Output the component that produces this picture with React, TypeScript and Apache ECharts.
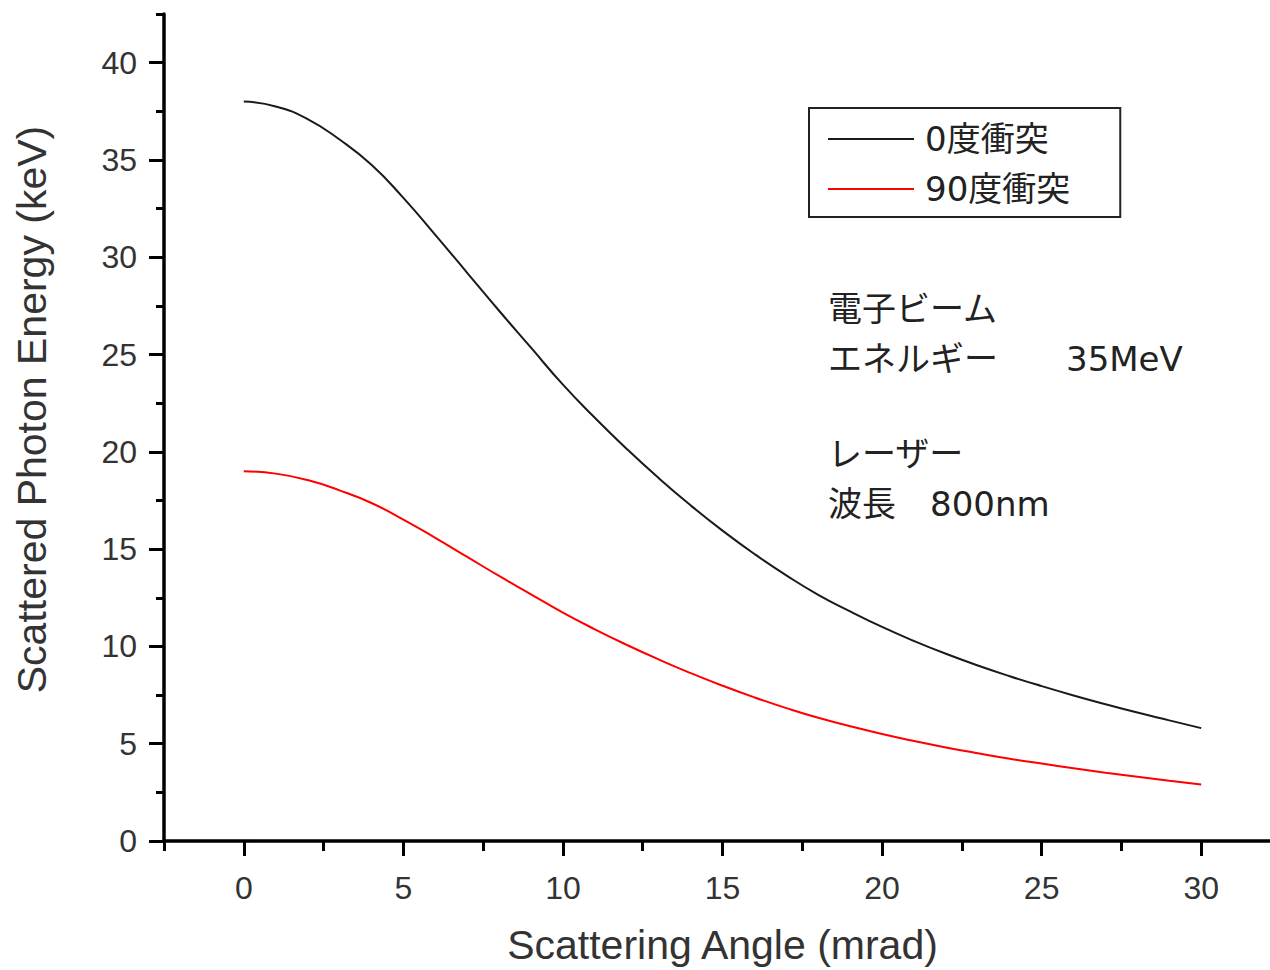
import React, { useEffect, useRef } from "react";
import * as echarts from "echarts";

// Scattering angle (mrad)
const angles = [0, 1, 2, 3, 4, 5, 6, 7, 8, 9, 10, 11, 12, 13, 14, 15, 16, 17, 18, 19, 20, 21, 22, 23, 24, 25, 26, 27, 28, 29, 30];
// Scattered photon energy (keV), head-on (0 deg) collision
const energy0deg = [38.0, 37.75, 37.1, 36.05, 34.75, 33.05, 31.15, 29.2, 27.25, 25.35, 23.45, 21.75, 20.15, 18.65, 17.25, 15.95, 14.75, 13.65, 12.65, 11.8, 11.0, 10.28, 9.62, 9.02, 8.47, 7.96, 7.48, 7.03, 6.6, 6.2, 5.8];
// Scattered photon energy (keV), 90 deg collision
const energy90deg = [19.0, 18.88, 18.55, 18.02, 17.37, 16.52, 15.58, 14.6, 13.62, 12.68, 11.74, 10.88, 10.08, 9.33, 8.63, 7.98, 7.38, 6.83, 6.33, 5.9, 5.5, 5.14, 4.81, 4.51, 4.23, 3.98, 3.74, 3.51, 3.3, 3.1, 2.9];

const seriesNames = ["0度衝突", "90度衝突"];
const seriesColors = ["#1a1a1a", "#ff0000"];
const xAxisTitle = "Scattering Angle (mrad)";
const yAxisTitle = "Scattered Photon Energy (keV)";
const xMajorTicks = [0, 5, 10, 15, 20, 25, 30];
const xMinorTicks = [-2.5, 2.5, 7.5, 12.5, 17.5, 22.5, 27.5, 32.5];
const yMajorTicks = [0, 5, 10, 15, 20, 25, 30, 35, 40];
const yMinorTicks = [2.5, 7.5, 12.5, 17.5, 22.5, 27.5, 32.5, 37.5, 42.5];
const annotationLines = ["電子ビーム", "エネルギー　　35MeV", "レーザー", "波長　800nm"];

const LAT = "'Liberation Sans', Arial, sans-serif";
const JP = "'DejaVu Sans', 'Noto Sans CJK JP', sans-serif";

export default function App() {
  const ref = useRef<HTMLDivElement>(null);

  useEffect(() => {
    if (!ref.current) return;
    const chart = echarts.init(ref.current, undefined, { renderer: "svg" });

    const grid = { left: 164, top: 14, width: 1117, height: 829 };
    const annY = [309, 359, 454, 504];

    const option: any = {
      animation: false,
      backgroundColor: "#ffffff",
      grid,
      legend: {
        orient: "vertical",
        left: 809,
        top: 108,
        padding: [11, 50, 8, 19],
        itemGap: 10,
        itemWidth: 86,
        itemHeight: 2,
        icon: "rect",
        borderColor: "#222",
        borderWidth: 2,
        selectedMode: false,
        data: seriesNames,
        textStyle: {
          fontFamily: JP,
          fontSize: 34,
          lineHeight: 40,
          color: "#222",
          padding: [0, 0, 0, 6],
        },
      },
      xAxis: [
        {
          type: "value",
          min: -2.5,
          max: 32.5,
          position: "bottom",
          name: xAxisTitle,
          nameLocation: "middle",
          nameGap: 83,
          nameTextStyle: { fontFamily: LAT, fontSize: 41, color: "#333" },
          axisLine: { show: true, onZero: false, lineStyle: { color: "#000", width: 3.5 } },
          axisTick: { show: true, inside: false, length: 15, customValues: xMajorTicks, lineStyle: { color: "#000", width: 3 } },
          axisLabel: { show: true, customValues: xMajorTicks, margin: 31, fontFamily: LAT, fontSize: 32, color: "#333" },
          splitLine: { show: false },
        },
        {
          type: "value",
          min: -2.5,
          max: 32.5,
          position: "bottom",
          axisLine: { show: false, onZero: false },
          axisTick: { show: true, inside: false, length: 10, customValues: xMinorTicks, lineStyle: { color: "#000", width: 3 } },
          axisLabel: { show: false },
          splitLine: { show: false },
        },
      ],
      yAxis: [
        {
          type: "value",
          min: 0,
          max: 42.5,
          position: "left",
          name: yAxisTitle,
          nameLocation: "middle",
          nameGap: 112,
          nameTextStyle: { fontFamily: LAT, fontSize: 41, color: "#333", padding: [0, 0, 0, 36] },
          axisLine: { show: true, onZero: false, lineStyle: { color: "#000", width: 3.5 } },
          axisTick: { show: true, inside: false, length: 15, customValues: yMajorTicks, lineStyle: { color: "#000", width: 3 } },
          axisLabel: { show: true, customValues: yMajorTicks, margin: 27, fontFamily: LAT, fontSize: 32, color: "#333" },
          splitLine: { show: false },
        },
        {
          type: "value",
          min: 0,
          max: 42.5,
          position: "left",
          axisLine: { show: false, onZero: false },
          axisTick: { show: true, inside: false, length: 8, customValues: yMinorTicks, lineStyle: { color: "#000", width: 3 } },
          axisLabel: { show: false },
          splitLine: { show: false },
        },
      ],
      series: [0, 1].map((k) => ({
        name: seriesNames[k],
        type: "line",
        xAxisIndex: 0,
        yAxisIndex: 0,
        data: angles.map((a, i) => [a, (k === 0 ? energy0deg : energy90deg)[i]]),
        symbol: "none",
        smooth: true,
        lineStyle: { color: seriesColors[k], width: 2 },
        itemStyle: { color: seriesColors[k] },
        emphasis: { disabled: true },
      })),
      graphic: annotationLines.map((t, i) => ({
        type: "text",
        x: 828,
        y: annY[i],
        silent: true,
        style: {
          text: t,
          fontFamily: JP,
          fontSize: 34,
          fill: "#222",
          verticalAlign: "middle",
          align: "left",
        },
      })),
    };

    chart.setOption(option);
    return () => chart.dispose();
  }, []);

  return (
    <div style={{ position: "absolute", left: 0, top: 0, width: 1270, height: 970, overflow: "hidden", background: "#fff" }}>
      <div ref={ref} style={{ width: 1285, height: 970 }} />
    </div>
  );
}
